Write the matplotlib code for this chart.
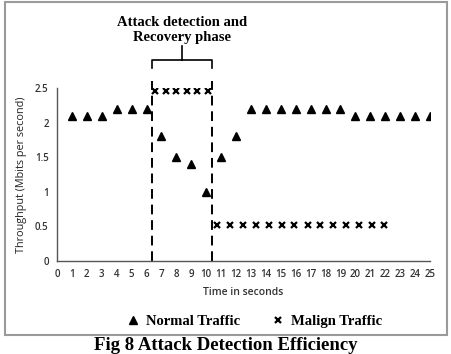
import matplotlib
matplotlib.use("Agg")
import matplotlib.pyplot as plt
from matplotlib.patches import Rectangle

# Data
normal_x = list(range(1, 26))
normal_y = [2.1, 2.1, 2.1, 2.2, 2.2, 2.2, 1.8, 1.5, 1.4, 1.0, 1.5, 1.8,
            2.2, 2.2, 2.2, 2.2, 2.2, 2.2, 2.2,
            2.1, 2.1, 2.1, 2.1, 2.1, 2.1]
malign_x_attack = [6.6, 7.3, 8.0, 8.7, 9.4, 10.1]
malign_y_attack = [2.46] * 6
malign_x_after = [10.7, 11.6, 12.45, 13.35, 14.2, 15.05, 15.9, 16.8, 17.65,
                  18.5, 19.35, 20.25, 21.1, 21.95]
malign_y_after = [0.52] * 14
phase_bounds = [6.35, 10.4]
x_ticks = list(range(0, 26))
y_ticks = [0, 0.5, 1, 1.5, 2, 2.5]
y_tick_labels = ["0", "0.5", "1", "1.5", "2", "2.5"]

W, H = 451, 354
fig = plt.figure(figsize=(W / 100, H / 100), dpi=100)
fig.patch.set_facecolor("white")

ax = fig.add_axes([57 / W, 1 - 261 / H, (430 - 57) / W, (261 - 88) / H])
ax.set_xlim(0, 25)
ax.set_ylim(0, 2.5)

sans = "Open Sans"
serif = "Liberation Serif"

ax.plot(normal_x, normal_y, linestyle="none", marker="^", color="black",
        markersize=5.5, label="Normal Traffic")
ax.plot(malign_x_attack + malign_x_after, malign_y_attack + malign_y_after,
        linestyle="none", marker="x", color="black", markersize=4,
        markeredgewidth=1.6, label="Malign Traffic")

for xb in phase_bounds:
    ax.plot([xb, xb], [0, 2.6], color="black", lw=1.4, linestyle=(0, (5, 3)),
            clip_on=False)

# brace
xl, xr = phase_bounds
xm = (xl + xr) / 2
ax.plot([xl, xl, xr, xr], [2.79, 2.9, 2.9, 2.79], color="black", lw=1.2,
        clip_on=False)
ax.plot([xm, xm], [2.9, 3.1], color="black", lw=1.2, clip_on=False)
ax.text(xm, 3.34, "Attack detection and\nRecovery phase", ha="center",
        va="center", fontsize=10.5, fontweight="bold", family=serif,
        linespacing=1.2)

for s in ["top", "right"]:
    ax.spines[s].set_visible(False)
for s in ["left", "bottom"]:
    ax.spines[s].set_color("#555555")
    ax.spines[s].set_linewidth(1.0)

ax.set_xticks(x_ticks)
ax.set_xticklabels([str(t) for t in x_ticks])
ax.set_yticks(y_ticks)
ax.set_yticklabels(y_tick_labels)
ax.tick_params(length=0, labelsize=7, colors="#333333", pad=6)
for lab in ax.get_xticklabels() + ax.get_yticklabels():
    lab.set_family(sans)
    lab.set_fontweight("semibold")

ax.set_xlabel("Time in seconds", fontsize=7.5, family=sans, color="#333333",
              labelpad=5, fontweight="semibold")
ax.set_ylabel("Throughput (Mbits per second)", fontsize=7.8, family=sans,
              color="#222222", labelpad=6)

leg = fig.legend(loc="center", bbox_to_anchor=(253 / W, 1 - 321 / H), ncol=2,
                 frameon=False, prop={"family": serif, "weight": "bold",
                                      "size": 10.5},
                 handletextpad=0.3, columnspacing=2.0, handlelength=1.2)

fig.patches.append(Rectangle((5 / W, 1 - 335 / H), 442 / W, 333 / H,
                             transform=fig.transFigure, fill=False,
                             edgecolor="#9a9a9a", lw=1.5))

fig.text(0.5, 1 - 345 / H, "Fig 8 Attack Detection Efficiency", ha="center",
         va="center", fontsize=13.5, fontweight="bold", family=serif)

fig.savefig("out.png", dpi=100)
